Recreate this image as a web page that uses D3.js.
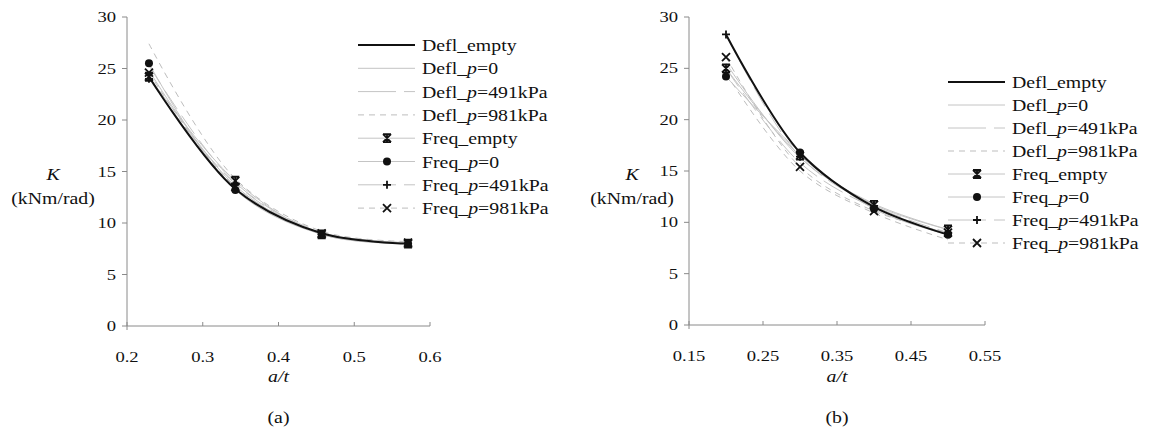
<!DOCTYPE html>
<html>
<head>
<meta charset="utf-8">
<script src="https://cdn.jsdelivr.net/npm/d3@7"></script>
<style>
  body { margin: 0; background: #fff; }
  text { font-family: "Liberation Serif", "Times New Roman", serif; fill: #111; }
</style>
</head>
<body>
<div id="chart"></div>
<script>
// a/t values for each panel
var xA = [0.229, 0.343, 0.457, 0.571]
var xB = [0.2, 0.3, 0.4, 0.5]

// panel (a) K values
var deflEmptyA = [24.2, 13.3, 9.0, 8.0]
var deflP0A = [24.8, 13.6, 9.0, 8.1]
var deflP491A = [25.3, 13.9, 9.1, 8.1]
var deflP981A = [27.4, 14.3, 9.2, 8.2]
var freqEmptyA = [24.2, 14.1, 8.9, 8.0]
var freqP0A = [25.5, 13.2, 8.9, 8.0]
var freqP491A = [24.0, 13.8, 8.9, 8.0]
var freqP981A = [24.6, 13.5, 9.0, 8.1]

// panel (b) K values
var deflEmptyB = [28.3, 16.8, 11.5, 8.8]
var deflP0B = [25.5, 16.3, 11.8, 9.3]
var deflP491B = [25.0, 15.8, 11.4, 8.9]
var deflP981B = [24.5, 15.0, 10.9, 8.3]
var freqEmptyB = [25.0, 16.5, 11.7, 9.3]
var freqP0B = [24.2, 16.8, 11.3, 8.8]
var freqP491B = [28.3, 16.4, 11.6, 9.0]
var freqP981B = [26.1, 15.4, 11.1, 9.0]

// legend labels: [prefix, italic p?, suffix]
var legendLabels = [
  ['Defl_empty', false, ''],
  ['Defl_', true, '=0'],
  ['Defl_', true, '=491kPa'],
  ['Defl_', true, '=981kPa'],
  ['Freq_empty', false, ''],
  ['Freq_', true, '=0'],
  ['Freq_', true, '=491kPa'],
  ['Freq_', true, '=981kPa']
]
var yTicks = [0, 5, 10, 15, 20, 25, 30]
var xTicksA = [0.2, 0.3, 0.4, 0.5, 0.6]
var xTicksB = [0.15, 0.25, 0.35, 0.45, 0.55]

// styles per series (same order as legend)
var styles = [
  { stroke: '#111', width: 2, dash: null, marker: null },
  { stroke: '#c4c4c4', width: 1, dash: null, marker: null },
  { stroke: '#c4c4c4', width: 1, dash: '22,8', marker: null },
  { stroke: '#bdbdbd', width: 1, dash: '6,5', marker: null },
  { stroke: '#c4c4c4', width: 1, dash: null, marker: 'star' },
  { stroke: '#c4c4c4', width: 1, dash: null, marker: 'circle' },
  { stroke: '#c4c4c4', width: 1, dash: '22,8', marker: 'plus' },
  { stroke: '#bdbdbd', width: 1, dash: '6,5', marker: 'x' }
]

var SX = 1.2 // text is horizontally stretched in the original

var svg = d3.select('#chart').append('svg')
  .attr('width', 1149).attr('height', 433)

function label(x, y, anchor, size, parts, italicAll) {
  var t = svg.append('text')
    .attr('transform', `translate(${x},${y}) scale(${SX},1)`)
    .attr('text-anchor', anchor)
    .attr('font-size', size)
  if (italicAll) t.attr('font-style', 'italic')
  parts.forEach(p => {
    t.append('tspan').text(p[0]).attr('font-style', p[1] ? 'italic' : null)
  })
  return t
}

function drawMarker(g, type, x, y) {
  var s = 4
  if (type === 'circle') {
    g.append('circle').attr('cx', x).attr('cy', y).attr('r', 4).attr('fill', '#111')
    return
  }
  var d = ''
  if (type === 'plus') d = `M${x-s},${y}H${x+s}M${x},${y-s}V${y+s}`
  if (type === 'x') d = `M${x-s},${y-s}L${x+s},${y+s}M${x-s},${y+s}L${x+s},${y-s}`
  if (type === 'star') d = `M${x-s},${y-s}L${x+s},${y+s}M${x-s},${y+s}L${x+s},${y-s}M${x},${y-s}V${y+s}M${x-s},${y-s}H${x+s}M${x-s},${y+s}H${x+s}`
  g.append('path').attr('d', d).attr('stroke', '#111').attr('stroke-width', 1.8).attr('fill', 'none')
}

function panel(opts) {
  var x = d3.scaleLinear().domain(opts.xDomain).range(opts.xRange)
  var y = d3.scaleLinear().domain([0, 30]).range(opts.yRange)
  var g = svg.append('g')

  // axes
  var axisColor = '#8a8a8a'
  g.append('line').attr('x1', x.range()[0]).attr('x2', x.range()[0])
    .attr('y1', y(30)).attr('y2', y(0) + 4).attr('stroke', axisColor)
  g.append('line').attr('x1', x.range()[0]).attr('x2', x.range()[1])
    .attr('y1', y(0)).attr('y2', y(0)).attr('stroke', axisColor)
  yTicks.forEach(t => {
    g.append('line').attr('x1', x.range()[0] - 5).attr('x2', x.range()[0])
      .attr('y1', y(t)).attr('y2', y(t)).attr('stroke', axisColor)
    label(x.range()[0] - 11, y(t) + 5, 'end', 15.5, [[String(t), false]])
  })
  opts.xTicks.forEach(t => {
    g.append('line').attr('x1', x(t)).attr('x2', x(t))
      .attr('y1', y(0) - 4).attr('y2', y(0)).attr('stroke', axisColor)
    label(x(t), y(0) + 36, 'middle', 15.5, [[String(t), false]])
  })

  // series lines
  var line = d3.line().x((d, i) => x(opts.xs[i])).y(d => y(d)).curve(d3.curveCatmullRom.alpha(0.5))
  var order = [1, 2, 3, 4, 5, 6, 7, 0]
  order.forEach(i => {
    var st = styles[i]
    g.append('path').attr('d', line(opts.series[i]))
      .attr('fill', 'none').attr('stroke', st.stroke).attr('stroke-width', st.width)
      .attr('stroke-dasharray', st.dash)
  })
  order.forEach(i => {
    var st = styles[i]
    if (st.marker) opts.series[i].forEach((v, j) => drawMarker(g, st.marker, x(opts.xs[j]), y(v)))
  })

  // legend
  legendLabels.forEach((lab, i) => {
    var st = styles[i]
    var ly = opts.legend.y + i * opts.legend.step
    var lx = opts.legend.x
    g.append('line').attr('x1', lx).attr('x2', lx + 57).attr('y1', ly).attr('y2', ly)
      .attr('stroke', i === 0 ? '#111' : st.stroke).attr('stroke-width', st.width)
      .attr('stroke-dasharray', st.dash ? (st.dash === '22,8' ? '38,8' : '6,5') : null)
    if (st.marker) drawMarker(g, st.marker, lx + 29, ly)
    var parts = [[lab[0], false]]
    if (lab[1]) parts.push(['p', true], [lab[2], false])
    label(lx + 64, ly + 6, 'start', 16.5, parts)
  })

  // axis titles
  label(opts.kx, 180, 'middle', 16.5, [['K', true]])
  label(opts.kx, 204, 'middle', 16.5, [['(kNm/rad)', false]])
  label(x((opts.xDomain[0] + opts.xDomain[1]) / 2), 382, 'middle', 16.5, [['a/t', true]])
  label(x((opts.xDomain[0] + opts.xDomain[1]) / 2), 423, 'middle', 16.5, [[opts.tag, false]])
}

panel({
  xDomain: [0.2, 0.6], xRange: [127, 430], yRange: [326, 17],
  xs: xA, xTicks: xTicksA, tag: '(a)', kx: 53,
  series: [deflEmptyA, deflP0A, deflP491A, deflP981A, freqEmptyA, freqP0A, freqP491A, freqP981A],
  legend: { x: 358, y: 45, step: 23.3 }
})

panel({
  xDomain: [0.15, 0.55], xRange: [689, 985], yRange: [325, 17],
  xs: xB, xTicks: xTicksB, tag: '(b)', kx: 632,
  series: [deflEmptyB, deflP0B, deflP491B, deflP981B, freqEmptyB, freqP0B, freqP491B, freqP981B],
  legend: { x: 948, y: 82, step: 23 }
})
</script>
</body>
</html>
